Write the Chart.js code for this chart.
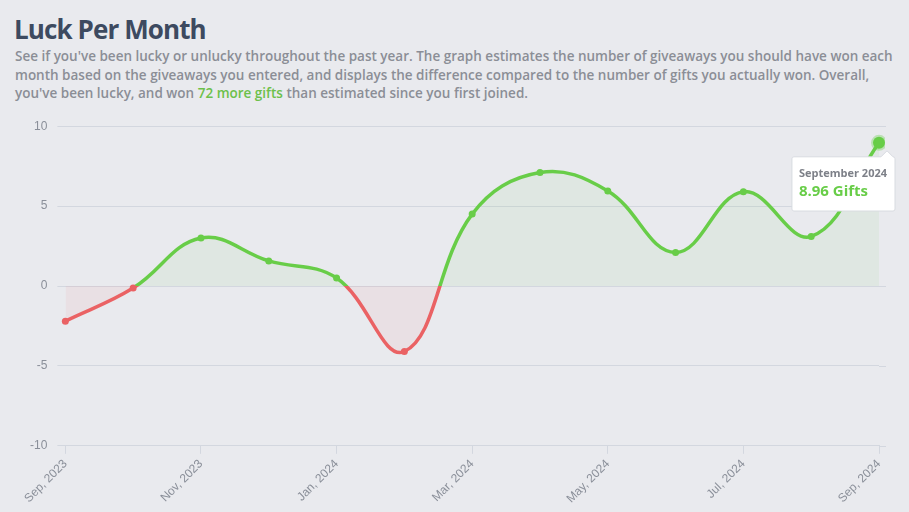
<!DOCTYPE html>
<html>
<head>
<meta charset="utf-8">
<script src="https://cdn.jsdelivr.net/npm/chart.js@4/dist/chart.umd.min.js"></script>
<style>
  html, body { margin: 0; padding: 0; background: #e9eaee; width: 909px; height: 512px; overflow: hidden; }
  h1 { position: absolute; left: 14px; top: 16px; margin: 0; font-family: "Open Sans", sans-serif; font-weight: 700;
       font-size: 26px; line-height: 26px; color: #3d4a60; letter-spacing: -0.9px; }
  p { position: absolute; left: 15px; top: 47px; width: 890px; margin: 0; font-family: "Open Sans", sans-serif;
      font-weight: 600; font-size: 13.5px; line-height: 18.5px; color: #8b8e96; }
  p span { color: #6cc04a; }
  #wrap { position: absolute; left: 20px; top: 109px; width: 889px; height: 400px; }
</style>
</head>
<body>
<h1>Luck Per Month</h1>
<p>See if you've been lucky or unlucky throughout the past year. The graph estimates the number of giveaways you should have won each month based on the giveaways you entered, and displays the difference compared to the number of gifts you actually won. Overall, you've been lucky, and won <span>72 more gifts</span> than estimated since you first joined.</p>
<div id="wrap"><canvas id="luck"></canvas></div>
<script>
// months shown on the axis and in the tooltip
var months = ['Sep, 2023', 'Oct, 2023', 'Nov, 2023', 'Dec, 2023', 'Jan, 2024', 'Feb, 2024', 'Mar, 2024',
              'Apr, 2024', 'May, 2024', 'Jun, 2024', 'Jul, 2024', 'Aug, 2024', 'Sep, 2024'];
var monthNames = ['September 2023', 'October 2023', 'November 2023', 'December 2023', 'January 2024', 'February 2024',
                  'March 2024', 'April 2024', 'May 2024', 'June 2024', 'July 2024', 'August 2024', 'September 2024'];
var luck = [-2.2, -0.13, 3.0, 1.57, 0.5, -4.1, 4.5, 7.1, 5.95, 2.1, 5.9, 3.1, 8.96];
var yTicks = [-10, -5, 0, 5, 10];

var green = 'rgb(104, 205, 72)';
var red = 'rgb(234, 98, 100)';

function lineColor(c) {
    var chart = c.chart;
    var area = chart.chartArea;
    if (!area) return green;
    var zero = chart.scales.y.getPixelForValue(0);
    var stop = (zero - area.top) / (area.bottom - area.top);
    stop = Math.min(Math.max(stop, 0), 1);
    var g = chart.ctx.createLinearGradient(0, area.top, 0, area.bottom);
    g.addColorStop(0, green);
    g.addColorStop(stop, green);
    g.addColorStop(stop, red);
    g.addColorStop(1, red);
    return g;
}

function pointColor(c) {
    return c.raw < 0 ? red : green;
}

// tooltip sits a bit right/below the hovered point
Chart.Tooltip.positioners.shifted = function(items) {
    var p = Chart.Tooltip.positioners.average.call(this, items);
    if (!p) return p;
    return { x: p.x + 8, y: p.y + 5 };
};

// y grid lines run a few px past the right edge of the plot
var gridTail = {
    id: 'gridTail',
    beforeDatasetsDraw: function(chart) {
        var a = chart.chartArea, y = chart.scales.y, c = chart.ctx;
        c.save();
        c.strokeStyle = '#d3d7df';
        c.lineWidth = 1;
        yTicks.forEach(function(v) {
            var py = Math.round(y.getPixelForValue(v)) + 0.5;
            c.beginPath();
            c.moveTo(a.right, py);
            c.lineTo(a.right + 7, py);
            c.stroke();
        });
        c.restore();
    }
};

var ctx = document.getElementById('luck').getContext('2d');
var luckchart = new Chart(ctx, {
    type: 'line',
    data: {
        labels: months,
        datasets: [{
            label: 'Luck',
            data: luck,
            borderColor: lineColor,
            borderWidth: 3.5,
            tension: 0.4,
            pointRadius: 3.5,
            pointBackgroundColor: pointColor,
            pointBorderColor: pointColor,
            pointBorderWidth: 0,
            pointHoverRadius: 6,
            pointHoverBorderWidth: 4,
            pointHoverBackgroundColor: pointColor,
            pointHoverBorderColor: 'rgba(104, 205, 72, 0.35)',
            fill: {
                target: 'origin',
                above: 'rgba(104, 205, 72, 0.07)',
                below: 'rgba(234, 98, 100, 0.07)'
            }
        }]
    },
    plugins: [gridTail],
    options: {
        responsive: true,
        maintainAspectRatio: false,
        animation: false,
        layout: { padding: { top: 8, right: 30, bottom: 0, left: 0 } },
        plugins: {
            legend: { display: false },
            tooltip: {
                enabled: true,
                position: 'shifted',
                backgroundColor: '#ffffff',
                borderColor: '#d8dbe0',
                borderWidth: 1,
                cornerRadius: 2,
                displayColors: false,
                xAlign: 'right',
                yAlign: 'top',
                caretSize: 6,
                caretPadding: 3,
                padding: { left: 7, right: 8, top: 10, bottom: 10 },
                titleColor: '#7d8088',
                titleFont: { family: 'Open Sans', size: 11, weight: '700' },
                titleMarginBottom: 3,
                bodyColor: green,
                bodyFont: { family: 'Open Sans', size: 15, weight: '700' },
                callbacks: {
                    title: function(items) { return monthNames[items[0].dataIndex]; },
                    label: function(item) { return item.raw + ' Gifts'; }
                }
            }
        },
        scales: {
            x: {
                grid: { drawOnChartArea: false, color: '#d3d7df', tickLength: 8 },
                border: { color: '#d3d7df' },
                ticks: {
                    autoSkip: true,
                    maxTicksLimit: 7,
                    maxRotation: 45,
                    minRotation: 45,
                    color: '#8a8f99',
                    font: { family: 'Liberation Sans', size: 12 }
                }
            },
            y: {
                min: -10,
                max: 10,
                afterBuildTicks: function(axis) {
                    axis.ticks = yTicks.map(function(v) { return { value: v }; });
                },
                grid: { color: '#d3d7df', tickLength: 8 },
                border: { display: false },
                ticks: {
                    color: '#8a8f99',
                    padding: 10,
                    font: { family: 'Liberation Sans', size: 12 }
                }
            }
        }
    }
});

var last = luck.length - 1;
luckchart.setActiveElements([{ datasetIndex: 0, index: last }]);
luckchart.tooltip.setActiveElements([{ datasetIndex: 0, index: last }], { x: 0, y: 0 });
luckchart.update();
</script>
</body>
</html>
